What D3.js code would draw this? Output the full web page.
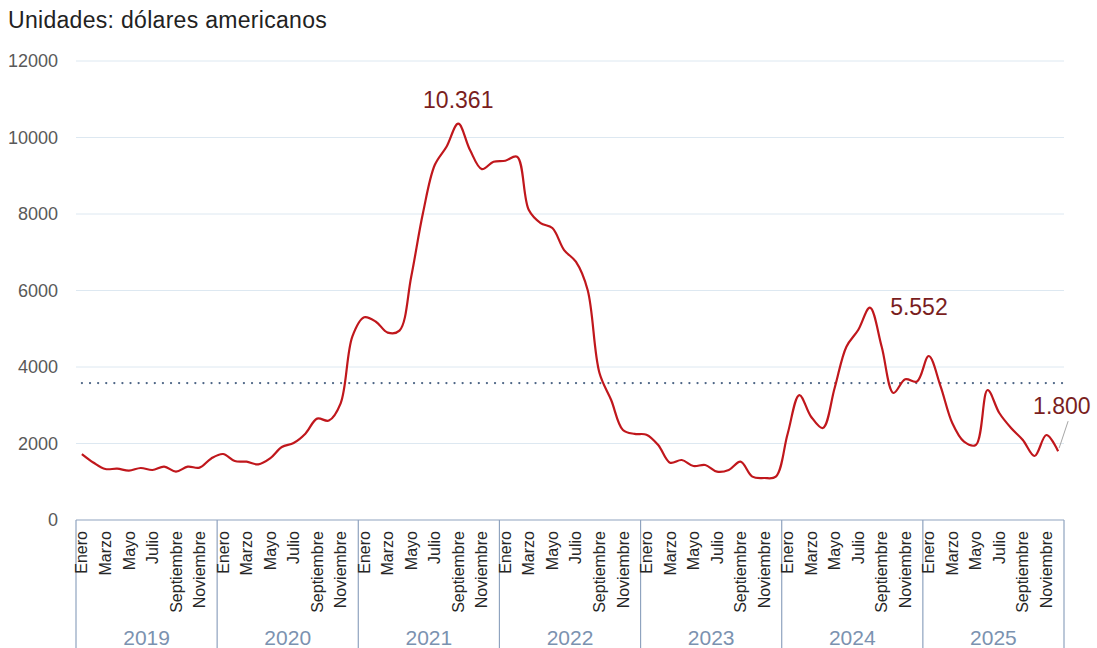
<!DOCTYPE html>
<html>
<head>
<meta charset="utf-8">
<script src="https://cdnjs.cloudflare.com/ajax/libs/d3/7.8.5/d3.min.js"></script>
<style>
  body { margin: 0; background: #fff; }
  svg { display: block; font-family: "Liberation Sans", Arial, sans-serif; }
</style>
</head>
<body>
<div id="chart"></div>
<script>
// Data (monthly, Jan 2019 - Dec 2025)
const years = ["2019", "2020", "2021", "2022", "2023", "2024", "2025"];
const monthNames = ["Enero", "Febrero", "Marzo", "Abril", "Mayo", "Junio", "Julio",
                    "Agosto", "Septiembre", "Octubre", "Noviembre", "Diciembre"];
const v2019 = [1725, 1498, 1333, 1342, 1290, 1360, 1307, 1394, 1263, 1394, 1370, 1610];
const v2020 = [1725, 1542, 1524, 1455, 1610, 1908, 2013, 2257, 2650, 2600, 3050, 4800];
const v2021 = [5300, 5184, 4900, 4950, 6360, 8025, 9280, 9758, 10361, 9672, 9175, 9366];
const v2022 = [9393, 9497, 8103, 7763, 7633, 7058, 6752, 6012, 3850, 3137, 2353, 2250];
const v2023 = [2230, 1960, 1498, 1568, 1411, 1438, 1263, 1307, 1524, 1133, 1098, 1133];
const v2024 = [2250, 3267, 2700, 2405, 3450, 4530, 4967, 5552, 4530, 3320, 3680, 3620];
const v2025 = [4287, 3500, 2535, 2047, 1960, 3398, 2797, 2405, 2091, 1673, 2222, 1800];
const average = 3580;
const yTicks = [0, 2000, 4000, 6000, 8000, 10000, 12000];
const highlights = [
  { year: "2021", month: 8, text: "10.361" },
  { year: "2024", month: 7, text: "5.552" },
  { year: "2025", month: 11, text: "1.800" }
];

const allValues = [v2019, v2020, v2021, v2022, v2023, v2024, v2025];
const data = [];
allValues.forEach((arr, yi) => {
  arr.forEach((v, mi) => data.push({ key: years[yi] + "-" + mi, year: years[yi], month: mi, value: v }));
});

const width = 1097, height = 648;
const plotLeft = 76, plotRight = 1064, plotTop = 61, plotBottom = 520;

const svg = d3.select("#chart").append("svg")
    .attr("width", width)
    .attr("height", height);

const x = d3.scaleBand()
    .domain(data.map(d => d.key))
    .range([plotLeft, plotRight])
    .padding(0);

const xYear = d3.scaleBand()
    .domain(years)
    .range([plotLeft, plotRight])
    .padding(0);

const y = d3.scaleLinear()
    .domain([0, 12000])
    .range([plotBottom, plotTop]);

const cx = d => x(d.key) + x.bandwidth() / 2;

// Title
svg.append("text")
    .attr("x", 8)
    .attr("y", 28)
    .attr("font-size", 23)
    .attr("letter-spacing", 0.3)
    .attr("fill", "#222")
    .text("Unidades: dólares americanos");

// Gridlines
svg.append("g")
    .selectAll("line")
    .data(yTicks.filter(t => t > 0))
    .join("line")
    .attr("x1", plotLeft)
    .attr("x2", plotRight)
    .attr("y1", d => y(d))
    .attr("y2", d => y(d))
    .attr("stroke", "#dde8f1")
    .attr("stroke-width", 1);

// Y axis labels
svg.append("g")
    .selectAll("text")
    .data(yTicks)
    .join("text")
    .attr("x", 58)
    .attr("y", d => y(d))
    .attr("dy", "0.35em")
    .attr("text-anchor", "end")
    .attr("font-size", 18)
    .attr("fill", "#595959")
    .text(d => d);

// Category axis box
const axisColor = "#8fa3bf";
svg.append("line")
    .attr("x1", plotLeft).attr("x2", plotRight)
    .attr("y1", plotBottom).attr("y2", plotBottom)
    .attr("stroke", axisColor).attr("stroke-width", 1.2);

svg.append("g")
    .selectAll("line")
    .data(years.concat(["end"]))
    .join("line")
    .attr("x1", d => d === "end" ? plotRight : xYear(d))
    .attr("x2", d => d === "end" ? plotRight : xYear(d))
    .attr("y1", plotBottom)
    .attr("y2", height)
    .attr("stroke", axisColor)
    .attr("stroke-width", 1.2);

// Month labels (every other month)
svg.append("g")
    .selectAll("text")
    .data(data.filter(d => d.month % 2 === 0))
    .join("text")
    .attr("transform", d => `translate(${cx(d)},${plotBottom + 11}) rotate(-90)`)
    .attr("dy", "0.35em")
    .attr("text-anchor", "end")
    .attr("font-size", 16)
    .attr("fill", "#262626")
    .text(d => monthNames[d.month]);

// Year labels
svg.append("g")
    .selectAll("text")
    .data(years)
    .join("text")
    .attr("x", d => xYear(d) + xYear.bandwidth() / 2)
    .attr("y", 645)
    .attr("text-anchor", "middle")
    .attr("font-family", "'Liberation Sans Narrow', 'Arial Narrow', 'Liberation Sans', sans-serif")
    .attr("font-size", 21)
    .attr("fill", "#7b92b0")
    .text(d => d);

// Average dotted line
const first = data[0];
svg.append("line")
    .attr("x1", cx(first))
    .attr("x2", plotRight)
    .attr("y1", y(average))
    .attr("y2", y(average))
    .attr("stroke", "#4d6585")
    .attr("stroke-width", 2.2)
    .attr("stroke-linecap", "round")
    .attr("stroke-dasharray", "0.1 8");

// Main line
const line = d3.line()
    .x(d => cx(d))
    .y(d => y(d.value))
    .curve(d3.curveCatmullRom.alpha(0.5));

svg.append("path")
    .datum(data)
    .attr("fill", "none")
    .attr("stroke", "#c0171c")
    .attr("stroke-width", 2.2)
    .attr("d", line);

// Highlight labels
const labelColor = "#7a1e1e";
const pt = h => data.find(d => d.year === h.year && d.month === h.month);

const h0 = pt(highlights[0]);
svg.append("text")
    .attr("x", cx(h0))
    .attr("y", y(h0.value) - 16)
    .attr("text-anchor", "middle")
    .attr("font-size", 23)
    .attr("fill", labelColor)
    .text(highlights[0].text);

const h1 = pt(highlights[1]);
svg.append("text")
    .attr("x", cx(h1) + 49)
    .attr("y", y(h1.value) + 7)
    .attr("text-anchor", "middle")
    .attr("font-size", 23)
    .attr("fill", labelColor)
    .text(highlights[1].text);

const h2 = pt(highlights[2]);
svg.append("line")
    .attr("x1", cx(h2) + 1)
    .attr("y1", y(h2.value) - 3)
    .attr("x2", cx(h2) + 10)
    .attr("y2", y(h2.value) - 30)
    .attr("stroke", "#a6a6a6")
    .attr("stroke-width", 1);
svg.append("text")
    .attr("x", cx(h2) - 25)
    .attr("y", y(h2.value) - 37)
    .attr("font-size", 23)
    .attr("fill", labelColor)
    .text(highlights[2].text);
</script>
</body>
</html>
